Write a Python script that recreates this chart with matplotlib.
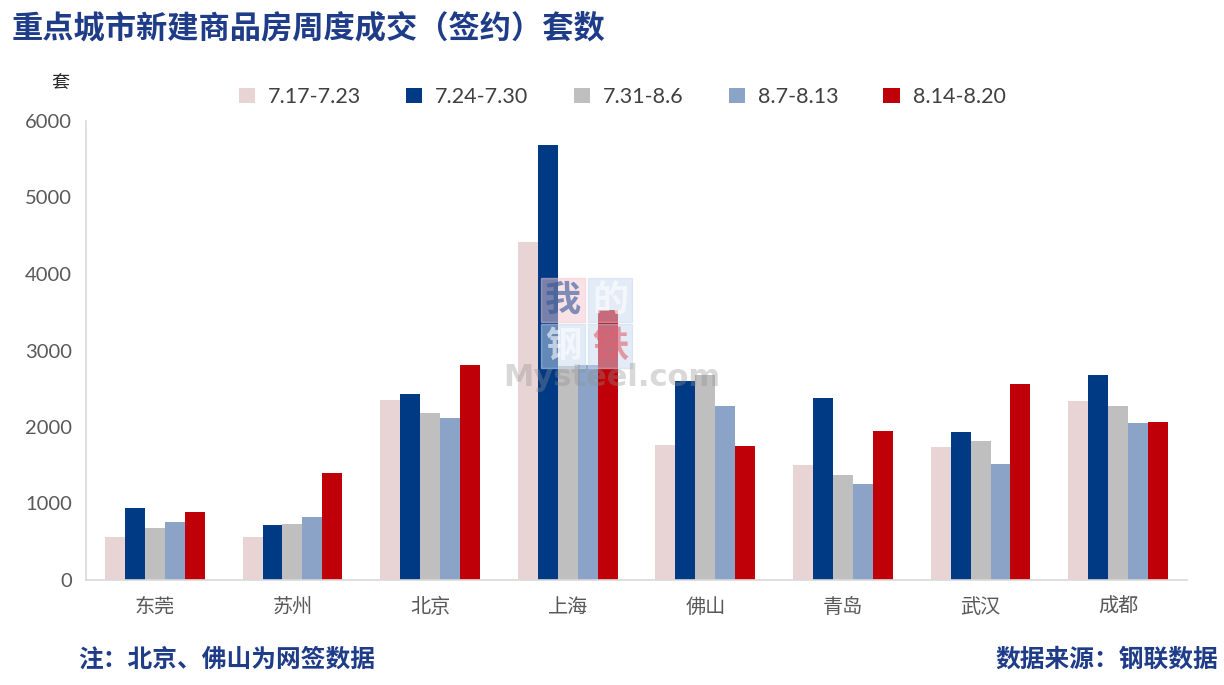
import matplotlib
matplotlib.use("Agg")
import matplotlib.pyplot as plt
from matplotlib.patches import Rectangle
import numpy as np

plt.rcParams['font.family'] = ['Noto Sans CJK SC', 'DejaVu Sans']

# categories and weekly values (sets)
cities = ["东莞", "苏州", "北京", "上海", "佛山", "青岛", "武汉", "成都"]
weeks = ["7.17-7.23", "7.24-7.30", "7.31-8.6", "8.7-8.13", "8.14-8.20"]
w1 = [562, 562, 2353, 4418, 1765, 1503, 1739, 2340]
w2 = [941, 719, 2431, 5686, 2601, 2379, 1935, 2680]
w3 = [680, 732, 2183, 2800, 2680, 1373, 1817, 2275]
w4 = [758, 824, 2118, 2810, 2275, 1255, 1516, 2052]
w5 = [889, 1399, 2810, 3529, 1752, 1948, 2562, 2065]
yticks = [0, 1000, 2000, 3000, 4000, 5000, 6000]

colors = ["#E8D4D4", "#003A84", "#BFBFBF", "#8AA3C7", "#C00008"]
series = [w1, w2, w3, w4, w5]
W, H = 1224, 685

fig = plt.figure(figsize=(12.24, 6.85), dpi=100)
ax = fig.add_axes([86 / W, 105 / H, 1101 / W, 459 / H])

x = np.arange(len(cities))
width = 0.145
for i, (vals, col, lab) in enumerate(zip(series, colors, weeks)):
    ax.bar(x + (i - 2) * width, vals, width, color=col, label=lab)

ax.set_xlim(-0.5, len(cities) - 0.5)
ax.set_ylim(0, 6000)
ax.set_yticks(yticks)
ax.set_yticklabels([str(t) for t in yticks], fontsize=14.5, color="#595959", family="Lato")
ax.set_xticks(x)
ax.set_xticklabels(cities, fontsize=14.5, color="#595959")
ax.tick_params(axis='x', length=0, pad=12)
ax.tick_params(axis='y', length=0, pad=10)
for s in ["top", "right"]:
    ax.spines[s].set_visible(False)
for s in ["left", "bottom"]:
    ax.spines[s].set_color("#D9D9D9")
    ax.spines[s].set_linewidth(1.2)

# watermark (logo squares + site name)
logo = [("我", 541, 278, "#F2C6CE", "#2F5597"), ("的", 588, 278, "#C9D9EE", "white"),
        ("钢", 541, 324, "#C9D9EE", "white"), ("铁", 588, 324, "#C9D9EE", "#E06070")]
for ch, lx, ly, bg, fg in logo:
    fig.patches.append(Rectangle((lx / W, 1 - (ly + 44) / H), 44 / W, 44 / H,
                                 transform=fig.transFigure, color=bg, alpha=0.5, zorder=5))
    fig.text((lx + 22) / W, 1 - (ly + 22) / H, ch, fontsize=26, weight="bold", color=fg,
             alpha=0.6, ha="center", va="center", zorder=6)
fig.text(612 / W, 1 - 378 / H, "Mysteel.com", fontsize=22, color="#909090", alpha=0.35,
         ha="center", va="center", family="DejaVu Sans", weight="bold", zorder=6)

handles, labels = ax.get_legend_handles_labels()
fig.legend(handles, labels, loc="center", bbox_to_anchor=(622 / W, 1 - 97 / H), ncol=5,
           frameon=False, handlelength=0.75, handleheight=0.75,
           columnspacing=2.1, handletextpad=0.6, prop={"family": "Lato", "size": 15.5},
           labelcolor="#404040")

fig.text(12 / W, 1 - 28 / H, "重点城市新建商品房周度成交（签约）套数", fontsize=22.5,
         weight="bold", color="#1F3C88", ha="left", va="center")
fig.text(60 / W, 1 - 83 / H, "套", fontsize=13, color="#262626", ha="center", va="center")
fig.text(78 / W, 1 - 660 / H, "注：北京、佛山为网签数据", fontsize=17.8, weight="bold",
         color="#1F3C88", ha="left", va="center")
fig.text(1218 / W, 1 - 660 / H, "数据来源：钢联数据", fontsize=17.8, weight="bold",
         color="#1F3C88", ha="right", va="center")

fig.savefig("out.png", dpi=100)
